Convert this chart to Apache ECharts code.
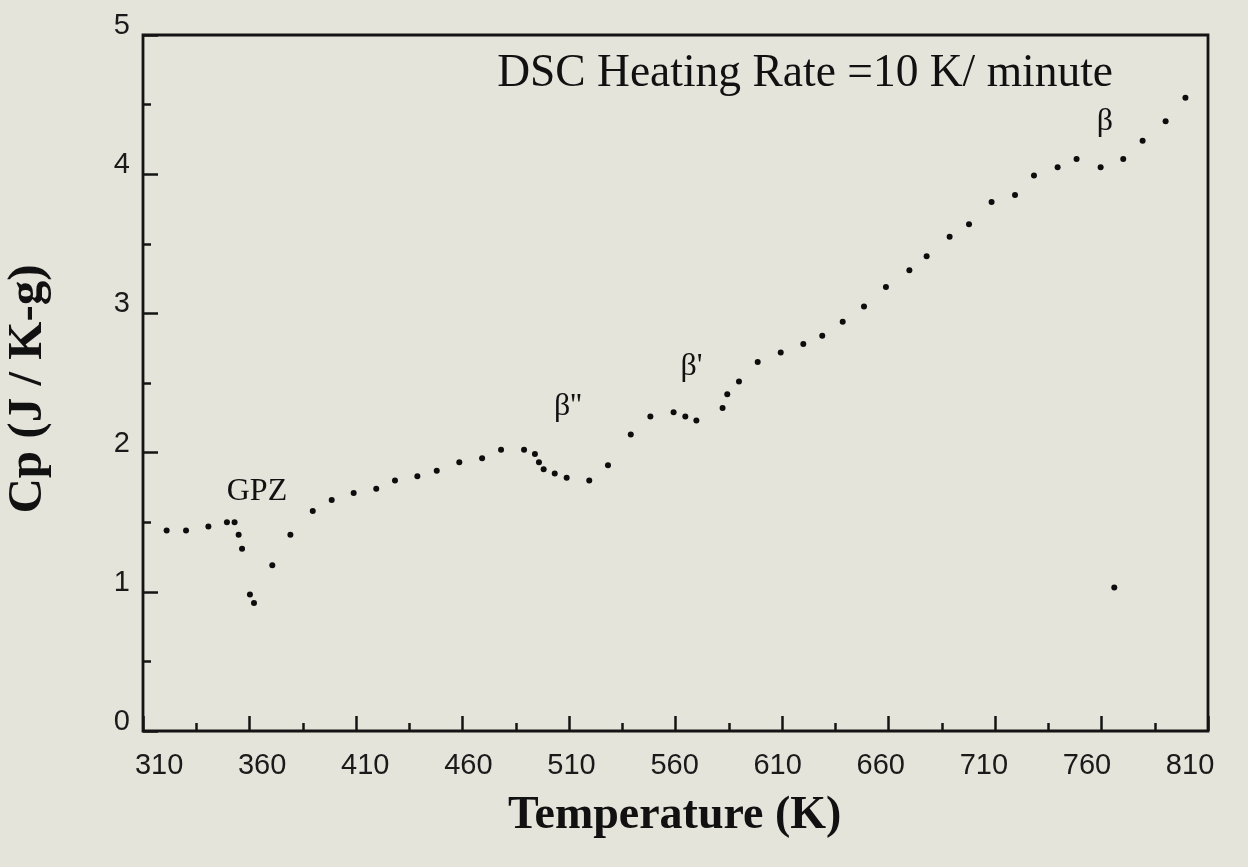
<!DOCTYPE html>
<html>
<head>
<meta charset="utf-8">
<script src="https://cdn.jsdelivr.net/npm/echarts@6/dist/echarts.min.js"></script>
<style>
html,body{margin:0;padding:0;background:#e5e4db;}
#c{width:1248px;height:867px;}
</style>
</head>
<body>
<div id="c"></div>
<script>
// ---- data ----
const temperature = [321.1,330.2,340.7,349.4,353.0,354.9,356.5,360.2,362.1,370.7,379.2,389.7,398.6,408.9,419.5,428.3,438.8,447.9,458.5,469.2,478.1,488.9,494.0,495.9,498.1,503.3,508.9,519.5,528.3,539.0,548.2,559.1,564.6,569.8,582.1,584.3,589.8,598.6,609.4,620.0,628.9,638.5,648.5,658.8,669.8,677.9,688.7,697.8,708.4,719.4,728.3,739.4,748.3,759.6,766.0,770.2,779.3,790.1,799.4];
const cp = [1.44,1.44,1.47,1.50,1.50,1.41,1.31,0.98,0.92,1.19,1.41,1.58,1.66,1.71,1.74,1.80,1.83,1.87,1.93,1.96,2.02,2.02,1.99,1.93,1.88,1.85,1.82,1.80,1.91,2.13,2.26,2.29,2.26,2.23,2.32,2.42,2.51,2.65,2.72,2.78,2.84,2.94,3.05,3.19,3.31,3.41,3.55,3.64,3.80,3.85,3.99,4.05,4.11,4.05,1.03,4.11,4.24,4.38,4.55];
const xTickLabels = [310,360,410,460,510,560,610,660,710,760,810];
const xMinorTicks = [335,385,435,485,535,585,635,685,735,785];
const yTickLabels = [0,1,2,3,4,5];
const yMinorTicks = [0.5,1.5,2.5,3.5,4.5];
const annotationText = ['GPZ','β\'\'','β\'','β'];
const annotationT = [363.5,509.5,567.5,761.6];
const annotationCp = [1.72,2.33,2.62,4.38];
const titleText = 'DSC Heating Rate =10 K/ minute';
const xTitle = 'Temperature (K)';
const yTitle = 'Cp (J / K-g)';

const ink = '#141414';
const chart = echarts.init(document.getElementById('c'), null, {renderer:'canvas'});

function xTickAxis(ticks, len){
  return {
    type:'value', min:310, max:810, position:'bottom',
    axisLine:{show:false}, splitLine:{show:false},
    axisTick:{show:true, inside:true, length:len, customValues:ticks, lineStyle:{color:ink,width:2.5}},
    axisLabel:{show:false}
  };
}
// label row of the x axis (labels in the original are spread slightly narrower than the ticks)
const xLabelAxis = {
  type:'value', min:302.2, max:818.7, position:'bottom',
  axisLine:{show:false}, splitLine:{show:false}, axisTick:{show:false},
  axisLabel:{show:true, customValues:xTickLabels, color:'#1a1a1a', fontFamily:'Liberation Sans', fontSize:29, margin:20}
};
function yAx(ticks, len, showLabel){
  return {
    type:'value', min:0, max:5, position:'left',
    axisLine:{show:false}, splitLine:{show:false},
    axisTick:{show:true, inside:true, length:len, customValues:ticks, lineStyle:{color:ink,width:2.5}},
    axisLabel:{show:showLabel, customValues:ticks, color:'#1a1a1a', fontFamily:'Liberation Sans', fontSize:29, margin:13, verticalAlign:'bottom', lineHeight:18}
  };
}

const option = {
  backgroundColor:'#e5e4db',
  animation:false,
  grid:{left:143, right:40, top:35, bottom:136, show:true, borderColor:ink, borderWidth:2.8, backgroundColor:'transparent', containLabel:false, outerBoundsMode:'none'},
  xAxis:[xTickAxis(xTickLabels,15), xTickAxis(xMinorTicks,8), xLabelAxis],
  yAxis:[yAx(yTickLabels,15,true), yAx(yMinorTicks,8,false)],
  series:[
    {
      type:'scatter', xAxisIndex:0, yAxisIndex:0,
      symbol:'circle', symbolSize:6,
      itemStyle:{color:'#0d0d0d', opacity:1},
      data: temperature.map((t,i)=>[t,cp[i]])
    },
    {
      type:'scatter', xAxisIndex:0, yAxisIndex:0,
      symbolSize:1, silent:true,
      itemStyle:{opacity:0},
      label:{show:true, position:'inside', formatter:p=>annotationText[p.dataIndex], color:'#111', opacity:1, fontFamily:'Liberation Serif', fontSize:32, verticalAlign:'middle', align:'center'},
      data: annotationT.map((t,i)=>[t,annotationCp[i]])
    }
  ],
  graphic:[
    {type:'text', right:1248-1113, top:51, style:{text:titleText, fill:'#111', font:'45.5px "Liberation Serif"'}},
    {type:'text', left:678-170, top:793, style:{text:xTitle, fill:'#111', font:'bold 46px "Liberation Serif"'}},
    {type:'text', x:28, y:389, rotation:Math.PI/2, style:{text:yTitle, fill:'#111', font:'bold 49px "Liberation Serif"', textAlign:'center', textVerticalAlign:'middle'}}
  ]
};
chart.setOption(option);
</script>
</body>
</html>
